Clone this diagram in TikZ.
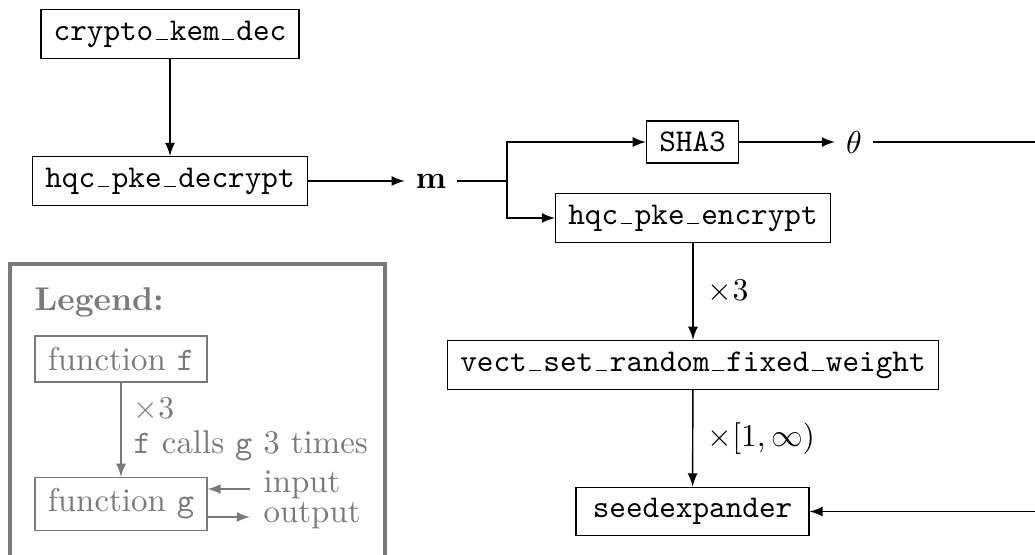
\documentclass[tikz,border=0pt]{standalone}
\usetikzlibrary{arrows}
\definecolor{leg}{RGB}{122,122,122}
\newcommand{\us}{\makebox[0.525em]{\rule{0.37em}{0.4pt}}}
\begin{document}
\begin{tikzpicture}[x=0.3158pt,y=-0.3158pt,
  fbox/.style={draw,inner xsep=4pt,inner ysep=3.5pt,font=\ttfamily,line width=0.45pt},
  lbox/.style={draw=leg,text=leg,inner xsep=4pt,inner ysep=3.5pt,line width=0.45pt,font=\fontsize{10.4}{12}\selectfont},
  lab/.style={inner sep=0pt,anchor=west},
  ltxt/.style={lab,text=leg,font=\fontsize{10.4}{12}\selectfont},
  arr/.style={-latex,line width=0.45pt},
  ln/.style={line width=0.45pt}]
\useasboundingbox (0,0) rectangle (1035,554);
% main nodes
\node[fbox] (kem) at (170,34) {crypto\us kem\us dec};
\node[fbox] (dec) at (170,181) {hqc\us pke\us decrypt};
\node (m) at (431,181) {$\mathbf{m}$};
\coordinate (br) at (507,181);
\node[fbox] (sha) at (692.5,142) {SHA3};
\node (th) at (854,142) {$\theta$};
\node[fbox] (enc) at (693,218) {hqc\us pke\us encrypt};
\node[fbox] (vect) at (693,365) {vect\us set\us random\us fixed\us weight};
\node[fbox,minimum width=73.5pt] (seed) at (692.5,511.5) {seedexpander};
\coordinate (c1) at (1038,142);
\coordinate (c2) at (1038,511.5);
% connectors
\draw[arr] (kem) -- (dec);
\draw[arr] (dec) -- (m);
\draw[ln] (m) -- (br);
\draw[arr] (br) |- (sha.west);
\draw[arr] (br) |- (enc.west);
\draw[arr] (sha) -- (th);
\draw[arr] (th) -- (c1) -- (c2) -- (seed);
\draw[arr] (enc) -- (vect) node[lab,pos=0.5,xshift=4.5pt] {$\times 3$};
\draw[arr] (vect) -- (seed) node[lab,pos=0.5,xshift=4.5pt] {$\times [1,\infty)$};
% legend
\draw[draw=leg,line width=1pt] (10,264) rectangle (385,575);
\node[ltxt] (legt) at (34,302) {\textbf{Legend:}};
\node[lbox] (f) at (121,359) {function \texttt{f}};
\node[lbox] (g) at (121,504) {function \texttt{g}};
\draw[arr,draw=leg] (f) -- (g);
\node[ltxt] (t3) at (133,410) {$\times 3$};
\node[ltxt] (calls) at (133,446) {\texttt{f} calls \texttt{g} 3 times};
\coordinate (inp) at (250,489);
\coordinate (outp) at (250,517);
\draw[arr,draw=leg] (inp) -- (inp -| g.east);
\draw[arr,draw=leg] (outp -| g.east) -- (outp);
\node[ltxt] (it) at (263,485) {input};
\node[ltxt] (ot) at (263,516) {output};
\end{tikzpicture}
\end{document}
